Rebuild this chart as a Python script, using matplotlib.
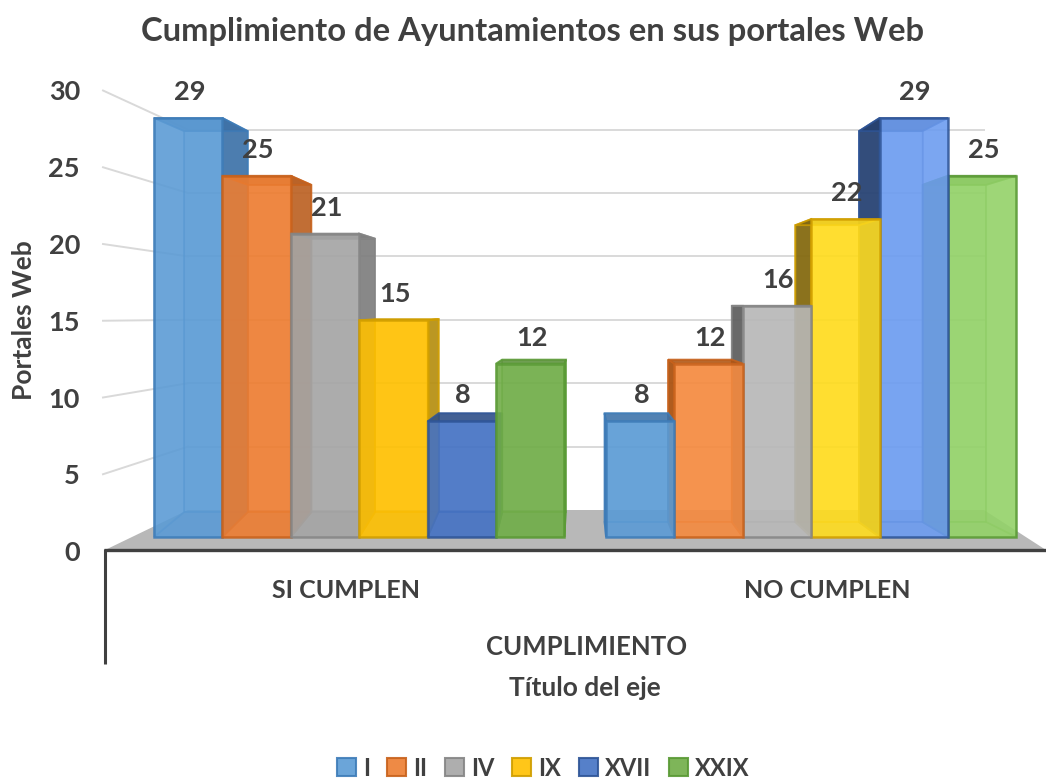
import matplotlib
matplotlib.use("Agg")
import matplotlib.pyplot as plt
from matplotlib.patches import Polygon, Patch

series = ["I", "II", "IV", "IX", "XVII", "XXIX"]
si_cumplen = [29, 25, 21, 15, 8, 12]
no_cumplen = [8, 12, 16, 22, 29, 25]
axis_ticks = [0, 5, 10, 15, 20, 25, 30]
groups = ["SI CUMPLEN", "NO CUMPLEN"]

colors_si = ["#5B9BD5", "#ED7D31", "#A5A5A5", "#FFC000", "#4472C4", "#70AD47"]
colors_no = ["#5B9BD5", "#F58A3F", "#B8B8B8", "#FFDC1E", "#6C9CF0", "#93D268"]
edges = ["#3E7CB8", "#C8621C", "#858585", "#D09E00", "#2F5597", "#5A9A35"]
sides_si = ["#3A6EA5", "#B85F22", "#7B7B7B", "#B08A10", "#2B4A80", "#5C8F3C"]
sides_no = ["#3A6EA5", "#A8500F", "#5C5C5C", "#7F6510", "#243F6E", "#5C8F3C"]

W, H = 1046, 781
OX, OY, BAR_PX, VAL_PX = 154.0, 537.0, 68.4, 14.45
GROUP_STARTS = (0.0, (606 - 154) / BAR_PX)
VX, VY, S = (585 - 154) / BAR_PX, (537 - 306) / VAL_PX, 0.93
TEXT = "#404040"
FONT = "Lato"


def X(p):
    return (p - OX) / BAR_PX


def Y(p):
    return (OY - p) / VAL_PX


plt.rcParams["font.family"] = [FONT, "DejaVu Sans"]
fig = plt.figure(figsize=(W / 100, H / 100), dpi=100, facecolor="white")
ax = fig.add_axes([0, 0, 1, 1])
ax.set_xlim(X(0), X(W))
ax.set_ylim(Y(H), Y(0))
ax.axis("off")

# floor and walls
ax.add_patch(Polygon([(X(105), Y(550)), (X(188), Y(510)), (X(984), Y(510)), (X(1046), Y(550))],
                     closed=True, fc="#B8B8B8", ec="none", zorder=1))
for t in axis_ticks:
    front_y, back_y = 551 - 15.35 * t, 510 - 12.68 * t
    if t > 0:
        ax.plot([X(103), X(188)], [Y(front_y), Y(back_y)], color="#D9D9D9", lw=1.4, zorder=1.5)
        ax.plot([X(188), X(984)], [Y(back_y), Y(back_y)], color="#D9D9D9", lw=1.4, zorder=1.5)
    ax.text(X(80), Y(front_y), str(t), ha="right", va="center_baseline", fontsize=19.5,
            fontweight="bold", color=TEXT, zorder=20)


def bx(x):
    return VX + (x - VX) * S


def by(v):
    return VY + (v - VY) * S


def bar3d(x0, v, face, edge, side, base, outer_right, z):
    x1 = x0 + 1
    f = [(x0, 0), (x1, 0), (x1, v), (x0, v)]
    b = [(bx(x0), base), (bx(x1), base), (bx(x1), by(v)), (bx(x0), by(v))]
    kw = dict(closed=True, ec=edge, lw=1.3, zorder=z)
    ax.add_patch(Polygon(b, fc=face, alpha=0.45, **kw))
    ax.add_patch(Polygon([f[0], f[1], b[1], b[0]], fc=face, alpha=0.35, **kw))
    # left and right side faces
    left = [f[0], f[3], b[3], b[0]]
    right = [f[1], f[2], b[2], b[1]]
    ax.add_patch(Polygon(left, fc=side if not outer_right else face,
                         alpha=0.9 if not outer_right else 0.3, **kw))
    ax.add_patch(Polygon(right, fc=side if outer_right else face,
                         alpha=0.85 if outer_right else 0.3, **kw))
    ax.add_patch(Polygon([f[3], f[2], b[2], b[3]], fc=side, alpha=0.8, **kw))
    ax.add_patch(Polygon(f, fc=face, alpha=0.85, closed=True, ec=edge, lw=1.8, zorder=z + 0.5))
    ax.text(x0 + 0.52, v + 28 / VAL_PX, str(v), ha="center", va="center_baseline", fontsize=19.5,
            fontweight="bold", color=TEXT, zorder=20)


for i, v in enumerate(si_cumplen):
    bar3d(GROUP_STARTS[0] + i, v, colors_si[i], edges[i], sides_si[i], Y(512), True, 2 + i)
for i in reversed(range(len(no_cumplen))):
    bar3d(GROUP_STARTS[1] + i, no_cumplen[i], colors_no[i], edges[i], sides_no[i], Y(522), False, 2 + (5 - i))

# category axis
ax.plot([X(104), X(1046)], [Y(550), Y(550)], color=TEXT, lw=2.4, zorder=15, solid_capstyle="butt")
ax.plot([X(105), X(105)], [Y(549), Y(664)], color=TEXT, lw=2.2, zorder=15, solid_capstyle="butt")

ax.text(X(533), Y(31), "Cumplimiento de Ayuntamientos en sus portales Web", ha="center", va="center",
        fontsize=23.6, fontweight="bold", color=TEXT, zorder=20)
ax.text(X(346), Y(590), groups[0], ha="center", va="center", fontsize=18, fontweight="bold", color=TEXT)
ax.text(X(827), Y(590), groups[1], ha="center", va="center", fontsize=18, fontweight="bold", color=TEXT)
ax.text(X(587), Y(647), "CUMPLIMIENTO", ha="center", va="center", fontsize=18.5, fontweight="bold", color=TEXT)
ax.text(X(585), Y(688), "Título del eje", ha="center", va="center", fontsize=19, fontweight="bold", color=TEXT)
ax.text(X(24), Y(320), "Portales Web", ha="center", va="center", rotation=90, fontsize=19,
        fontweight="bold", color=TEXT)

handles = [Patch(facecolor=c, edgecolor=e, linewidth=1.5, alpha=0.9, label=s)
           for c, e, s in zip(colors_si, edges, series)]
fig.legend(handles=handles, loc="center", bbox_to_anchor=(543 / W, 1 - 768 / H), ncol=6, frameon=False,
           prop={"family": FONT, "weight": "bold", "size": 17}, labelcolor=TEXT,
           handlelength=0.8, handleheight=0.8, handletextpad=0.3, columnspacing=0.75, borderpad=0)

fig.savefig("out.png", dpi=100, facecolor="white")
